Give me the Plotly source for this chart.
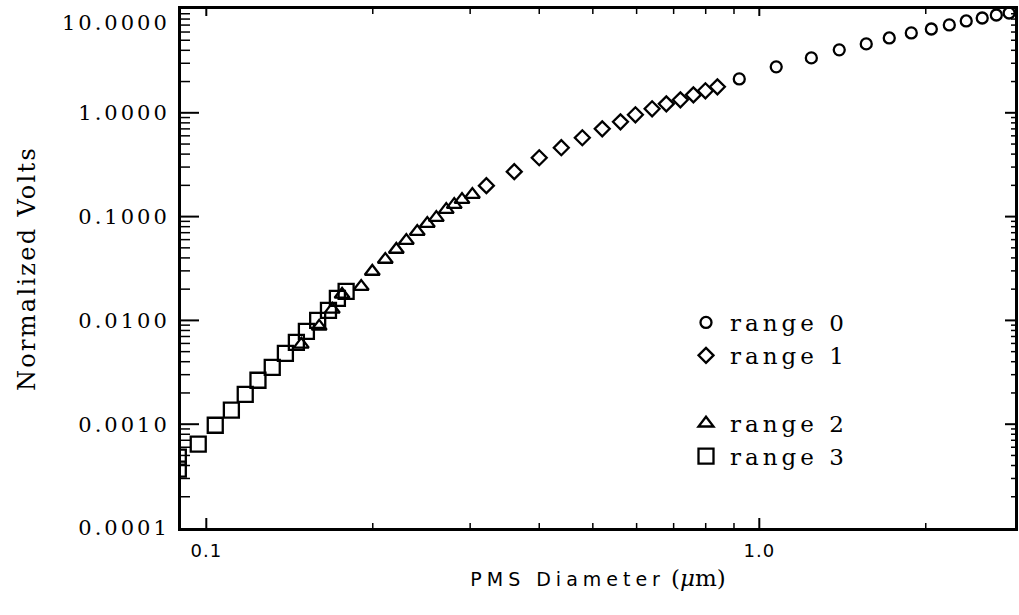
import math
import plotly.graph_objects as go

# PMS diameter (um) and normalized volts for each gain range
d_range0 = [0.920, 1.073, 1.242, 1.395, 1.561, 1.718, 1.883, 2.047, 2.206, 2.367, 2.53, 2.683, 2.83]
v_range0 = [2.12, 2.77, 3.38, 4.04, 4.61, 5.26, 5.88, 6.42, 7.02, 7.67, 8.19, 8.75, 9.15]

d_range1 = [0.321, 0.3605, 0.400, 0.4385, 0.4786, 0.520, 0.561, 0.597, 0.640, 0.679, 0.720, 0.760, 0.799, 0.840]
v_range1 = [0.1986, 0.271, 0.369, 0.461, 0.575, 0.701, 0.819, 0.957, 1.093, 1.22, 1.334, 1.49, 1.63, 1.78]

d_range2 = [0.1485, 0.160, 0.169, 0.176, 0.1906, 0.1996, 0.2107, 0.2206, 0.230, 0.2407, 0.251,
            0.2606, 0.2716, 0.2808, 0.290, 0.3028]
v_range2 = [0.00588, 0.00875, 0.01276, 0.01778, 0.0212, 0.0296, 0.0386, 0.0482, 0.0588, 0.0718, 0.0857,
            0.0977, 0.1167, 0.1303, 0.1457, 0.163]

d_range3 = [0.0890, 0.0890, 0.0967, 0.1038, 0.111, 0.1176, 0.124, 0.1316, 0.139, 0.1455, 0.1517,
            0.159, 0.1663, 0.1726, 0.179]
v_range3 = [0.000369, 0.000482, 0.000643, 0.000977, 0.001364, 0.00194, 0.00265, 0.00353, 0.00482,
            0.00614, 0.00783, 0.0100, 0.01248, 0.0163, 0.019]

legend_names = ["range 0", "range 1", "range 2", "range 3"]

y_tickvals = [0.0001, 0.001, 0.01, 0.1, 1.0, 10.0]
y_ticktext = ["0.0001", "0.0010", "0.0100", "0.1000", "1.0000", "10.0000"]
x_tickvals = [0.1, 1.0]
x_ticktext = ["0.1", "1.0"]

x_range = [0.09, 2.9]
y_range = [0.0001, 10.0]

# minor tick positions: 2..9 in every decade
y_minor = [m * 10.0 ** e for e in range(-4, 1) for m in range(2, 10)]
x_minor = [m / 10 for m in range(2, 10)] + [2.0]

SERIF = "DejaVu Serif"
SANS = "DejaVu Sans"

W, H = 1019, 615
ML, MR, MT, MB = 181, 4, 9, 87
PW, PH = W - ML - MR, H - MT - MB


def spaced(text, px):
    return f'<span style="letter-spacing:{px}px">{text}</span>'


def y_label(text):
    # the top label sits just below the frame corner
    s = spaced(text, 3)
    return "<br>" + s if text == y_ticktext[-1] else s


fig = go.Figure()

series = [
    (d_range0, v_range0, "circle-open", 11, "a"),
    (d_range1, v_range1, "diamond-open", 11.5, "a"),
    (d_range2, v_range2, "triangle-up-open", 13, "b"),
    (d_range3, v_range3, "square-open", 15, "b"),
]
for (d, v, sym, size, grp), name in zip(series, legend_names):
    fig.add_trace(go.Scatter(
        x=d, y=v, mode="markers", name=spaced(name, 4), legendgroup=grp,
        marker=dict(symbol=sym, size=size, color="black", line=dict(color="black", width=2.3)),
    ))


# inward tick marks on all four sides of the frame
def ytick(val, length_px, side):
    f = length_px / PW
    x0, x1 = (0, f) if side == "left" else (1 - f, 1)
    fig.add_shape(type="line", xref="paper", yref="y", x0=x0, x1=x1, y0=val, y1=val,
                  line=dict(color="black", width=2 if length_px > 9 else 1.5), layer="below")


def xtick(val, length_px, side):
    f = length_px / PH
    y0, y1 = (0, f) if side == "bottom" else (1 - f, 1)
    fig.add_shape(type="line", xref="x", yref="paper", x0=val, x1=val, y0=y0, y1=y1,
                  line=dict(color="black", width=2 if length_px > 6 else 1.5), layer="below")


for v in y_tickvals[1:-1]:
    ytick(v, 18, "left")
    ytick(v, 10, "right")
for v in y_minor:
    ytick(v, 9, "left")
    ytick(v, 4, "right")
for v in x_tickvals:
    xtick(v, 10, "bottom")
    xtick(v, 7, "top")
for v in x_minor:
    xtick(v, 5, "bottom")
    xtick(v, 5, "top")

fig.update_layout(
    width=W, height=H,
    margin=dict(l=ML, r=MR, t=MT, b=MB),
    paper_bgcolor="white", plot_bgcolor="rgba(0,0,0,0)",
    font=dict(family=SERIF, color="black"),
    showlegend=True,
    legend=dict(
        x=(682 - ML) / PW, y=(528 - 301) / PH, xanchor="left", yanchor="top",
        bgcolor="rgba(0,0,0,0)", borderwidth=0, itemwidth=38,
        font=dict(family=SERIF, size=23, color="black"),
        traceorder="grouped", tracegroupgap=35,
    ),
    xaxis=dict(
        type="log", range=[math.log10(x_range[0]), math.log10(x_range[1])],
        automargin=False, showgrid=False, zeroline=False,
        showline=True, linecolor="black", linewidth=3, mirror=True, ticks="",
        tickmode="array", tickvals=x_tickvals, ticktext=[spaced(t, 1) for t in x_ticktext],
        tickfont=dict(family=SANS, size=18, color="black"),
        ticklabelstandoff=4, ticklabeloverflow="allow",
        title=dict(
            text=(f'<span style="font-family:{SANS};letter-spacing:5px">PMS Diameter</span> '
                  f'<span style="font-family:{SERIF};font-size:23px">(<i>\u03bc</i>m)</span>'),
            font=dict(family=SANS, size=19, color="black"),
            standoff=14,
        ),
    ),
    yaxis=dict(
        type="log", range=[math.log10(y_range[0]), math.log10(y_range[1])],
        automargin=False, showgrid=False, zeroline=False,
        showline=True, linecolor="black", linewidth=3, mirror=True, ticks="",
        tickmode="array", tickvals=y_tickvals, ticktext=[y_label(t) for t in y_ticktext],
        tickfont=dict(family=SERIF, size=21, color="black"),
        ticklabelstandoff=4, ticklabeloverflow="allow",
        title=dict(
            text=spaced("Normalized Volts", 2.3),
            font=dict(family=SERIF, size=24, color="black"),
            standoff=20,
        ),
    ),
)

fig.write_html("out.html")
